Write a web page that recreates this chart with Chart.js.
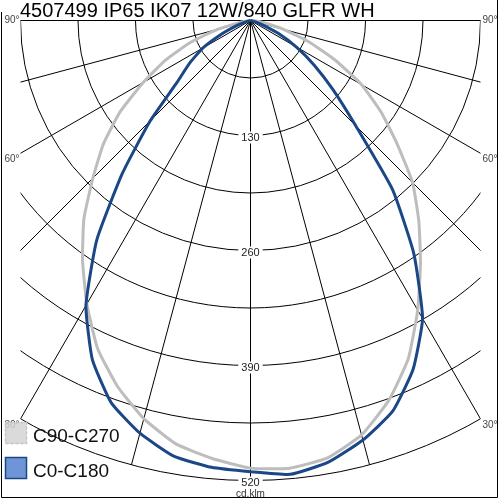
<!DOCTYPE html>
<html>
<head>
<meta charset="utf-8">
<script src="https://cdn.jsdelivr.net/npm/chart.js@4.4.1/dist/chart.umd.min.js"></script>
<style>
    html, body { margin: 0; padding: 0; background: #fff; }
    #wrap { width: 500px; height: 500px; }
</style>
</head>
<body>
<div id="wrap"><canvas id="polarChart" width="500" height="500"></canvas></div>
<script>
const chartTitle = '4507499 IP65 IK07 12W/840 GLFR WH';
const unitLabel = 'cd.klm';

// gamma angles, left side negative
const angles = [-90, -85, -80, -75, -70, -65, -60, -55, -50, -45, -40, -35, -30, -25, -20, -15, -10, -5,
    0, 5, 10, 15, 20, 25, 30, 35, 40, 45, 50, 55, 60, 65, 70, 75, 80, 85, 90];

// cd/klm
const c0c180 = [0, 0, 1, 5, 16, 35, 62, 84, 108, 160, 225, 303, 372, 423, 460, 483, 500, 507,
    510, 515, 507, 491, 470, 435, 389, 322, 250, 168, 122, 88, 60, 35, 15, 5, 1, 0, 0];
const c90c270 = [0, 3, 12, 38, 72, 106, 140, 180, 217, 252, 293, 331, 370, 409, 440, 466, 486, 497,
    506, 508, 502, 485, 457, 422, 378, 335, 296, 259, 216, 180, 145, 105, 70, 38, 15, 4, 0];

const ringValues = [65, 130, 195, 260, 325, 390, 455, 520];
const ringLabels = [130, 260, 390, 520];
const spokeAngles = [-90, -75, -60, -45, -30, -15, 0, 15, 30, 45, 60, 75, 90];
const angleLabels = [90, 60, 30];
const seriesNames = ['C90-C270', 'C0-C180'];

const MAX_VAL = 520;
const PX_PER_CD = 460 / 520;

function toXY(vals) {
    return angles.map((a, i) => {
        const rad = a * Math.PI / 180;
        return { x: vals[i] * Math.sin(rad), y: -vals[i] * Math.cos(rad) };
    });
}

const polarGrid = {
    id: 'polarGrid',
    beforeDatasetsDraw(chart) {
        const ctx = chart.ctx;
        const xs = chart.scales.x, ys = chart.scales.y;
        const ox = xs.getPixelForValue(0), oy = ys.getPixelForValue(0);
        const k = xs.getPixelForValue(100) - ox;
        const left = xs.getPixelForValue(-MAX_VAL / 2), right = xs.getPixelForValue(MAX_VAL / 2);

        ctx.save();
        ctx.beginPath();
        ctx.rect(left, oy - 1, right - left, 600);
        ctx.clip();
        ctx.strokeStyle = '#000';
        ctx.lineWidth = 1;

        ringValues.forEach(v => {
            ctx.beginPath();
            ctx.arc(ox, oy, v * k / 100, 0, Math.PI);
            ctx.stroke();
        });
        spokeAngles.forEach(a => {
            const rad = a * Math.PI / 180;
            ctx.beginPath();
            ctx.moveTo(ox, oy);
            ctx.lineTo(xs.getPixelForValue(MAX_VAL * Math.sin(rad)), ys.getPixelForValue(-MAX_VAL * Math.cos(rad)));
            ctx.stroke();
        });
        ctx.restore();

        // ring labels
        ctx.save();
        ctx.font = '11px "Liberation Sans", Arial, sans-serif';
        ctx.textAlign = 'center';
        ctx.textBaseline = 'middle';
        ringLabels.forEach(v => {
            const y = ys.getPixelForValue(-v) + 2;
            const w = ctx.measureText(String(v)).width + 6;
            ctx.fillStyle = '#fff';
            ctx.fillRect(ox - w / 2, y - 6, w, 12);
            ctx.fillStyle = '#222';
            ctx.fillText(String(v), ox, y);
        });
        ctx.font = '10px "Liberation Sans", Arial, sans-serif';
        ctx.fillStyle = '#333';
        ctx.fillText(unitLabel, ox, ys.getPixelForValue(-MAX_VAL) + 14);

        // angle labels at the ends of the spokes
        ctx.font = '10px "Liberation Sans", Arial, sans-serif';
        ctx.fillStyle = '#444';
        angleLabels.forEach(a => {
            const rad = a * Math.PI / 180;
            let r = Math.min(MAX_VAL, (MAX_VAL / 2) / Math.sin(rad));
            const y = ys.getPixelForValue(-r * Math.cos(rad)) + (a === 90 ? 0 : 6);
            ctx.textAlign = 'right';
            ctx.fillText(a + '°', left - 1, y);
            ctx.textAlign = 'left';
            ctx.fillText(a + '°', right + 2, y);
        });
        ctx.restore();
    },
    afterDraw(chart) {
        const ctx = chart.ctx;
        ctx.save();
        // frame
        ctx.strokeStyle = '#000';
        ctx.lineWidth = 1;
        ctx.beginPath();
        ctx.moveTo(1.5, 12);
        ctx.lineTo(1.5, 497.5);
        ctx.lineTo(497.5, 497.5);
        ctx.lineTo(497.5, 0);
        ctx.stroke();

        // title
        ctx.font = '20px "Liberation Sans", Arial, sans-serif';
        ctx.fillStyle = '#000';
        ctx.textBaseline = 'alphabetic';
        ctx.textAlign = 'left';
        ctx.fillText(chartTitle, 20, 17);

        // legend
        const ds = chart.data.datasets;
        const boxes = [
            { fill: 'rgba(212,212,212,0.85)', stroke: '#c4c4c4', dash: [3, 2], y: 422 },
            { fill: '#7095d6', stroke: '#1b4787', dash: [], y: 457 }
        ];
        ds.forEach((d, i) => {
            const b = boxes[i];
            ctx.fillStyle = b.fill;
            ctx.fillRect(5, b.y, 22, 22);
            ctx.setLineDash(b.dash);
            ctx.strokeStyle = b.stroke;
            ctx.lineWidth = 1.5;
            ctx.strokeRect(5.5, b.y + 0.5, 21, 21);
            ctx.setLineDash([]);
            ctx.fillStyle = '#111';
            ctx.font = '19px "Liberation Sans", Arial, sans-serif';
            ctx.fillText(d.label, 33, b.y + 20);
        });
        ctx.restore();
    }
};

const ctx = document.getElementById('polarChart').getContext('2d');
const polarChart = new Chart(ctx, {
    type: 'scatter',
    data: {
        datasets: [
            {
                label: seriesNames[0],
                data: toXY(c90c270),
                showLine: true,
                borderColor: '#bdbdbd',
                borderWidth: 3,
                pointRadius: 0,
                tension: 0.15,
                order: 2
            },
            {
                label: seriesNames[1],
                data: toXY(c0c180),
                showLine: true,
                borderColor: '#1b4787',
                borderWidth: 3,
                pointRadius: 0,
                tension: 0.15,
                order: 1
            }
        ]
    },
    options: {
        responsive: false,
        animation: false,
        devicePixelRatio: 1,
        layout: { padding: 0 },
        plugins: { legend: { display: false }, tooltip: { enabled: false }, title: { display: false } },
        scales: {
            x: { display: false, min: -250.5 / PX_PER_CD, max: 249.5 / PX_PER_CD },
            y: { display: false, min: -479.5 / PX_PER_CD, max: 20.5 / PX_PER_CD }
        }
    },
    plugins: [polarGrid]
});
</script>
</body>
</html>
